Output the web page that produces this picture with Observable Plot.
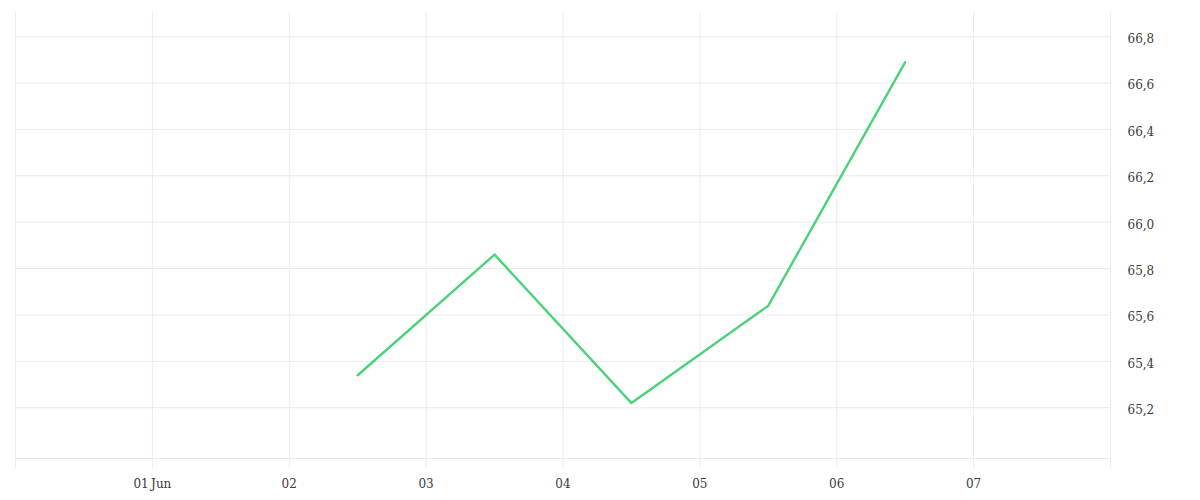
<!DOCTYPE html>
<html>
<head>
<meta charset="utf-8">
<script src="https://cdn.jsdelivr.net/npm/d3@7"></script>
<script src="https://cdn.jsdelivr.net/npm/@observablehq/plot@0.6"></script>
<style>
  html, body { margin: 0; padding: 0; background: #fff; }
  #chart svg { display: block; }
</style>
</head>
<body>
<div id="chart"></div>
<script>
// Data
const dates = ["2023-06-02T12:00", "2023-06-03T12:00", "2023-06-04T12:00", "2023-06-05T12:00", "2023-06-06T12:00"];
const values = [65.34, 65.86, 65.22, 65.64, 66.69];
const xTickDays = ["2023-06-01", "2023-06-02", "2023-06-03", "2023-06-04", "2023-06-05", "2023-06-06", "2023-06-07"];
const xGridDays = ["2023-05-31", "2023-06-01", "2023-06-02", "2023-06-03", "2023-06-04", "2023-06-05", "2023-06-06", "2023-06-07", "2023-06-08"];
const yTicks = [65.2, 65.4, 65.6, 65.8, 66.0, 66.2, 66.4, 66.6, 66.8];
const yDomain = [64.981, 66.904];
const xDomain = ["2023-05-31", "2023-06-08"];

const parse = s => new Date(s + (s.length === 10 ? "T00:00" : ""));
const data = dates.map((d, i) => ({date: parse(d), value: values[i]}));
const gridDates = xGridDays.map(parse);
const tickDates = xTickDays.map(parse);

const fmtX = d => d.getDate() === 1 ? d3.timeFormat("%d")(d) + "\u2009" + d3.timeFormat("%b")(d) : d3.timeFormat("%d")(d);
const fmtY = v => v.toFixed(1).replace(".", ",");

const chart = Plot.plot({
  width: 1200,
  height: 500,
  marginLeft: 15,
  marginRight: 90,
  marginTop: 12,
  marginBottom: 42,
  style: {fontFamily: "'DejaVu Serif', 'Liberation Serif', serif", fontSize: "12px", color: "#333", background: "#fff"},
  x: {type: "time", domain: xDomain.map(parse)},
  y: {domain: yDomain},
  marks: [
    Plot.ruleY(yTicks, {stroke: "#ebebeb", strokeWidth: 1}),
    Plot.ruleY([yDomain[0]], {stroke: "#ebebeb", strokeWidth: 1}),
    Plot.ruleX(gridDates, {stroke: "#ebebeb", strokeWidth: 1, insetBottom: -10}),
    Plot.axisX(tickDates, {tickSize: 0, tickPadding: 21, tickFormat: fmtX, fill: "#3a3a3a", fontSize: 12}),
    Plot.axisY(yTicks, {anchor: "right", tickSize: 0, tickPadding: 17, dy: 2.5, tickFormat: fmtY, fill: "#3a3a3a", fontSize: 12, label: null}),
    Plot.lineY(data, {x: "date", y: "value", stroke: "#4cd27b", strokeWidth: 2.4})
  ]
});
document.getElementById("chart").appendChild(chart);
</script>
</body>
</html>
